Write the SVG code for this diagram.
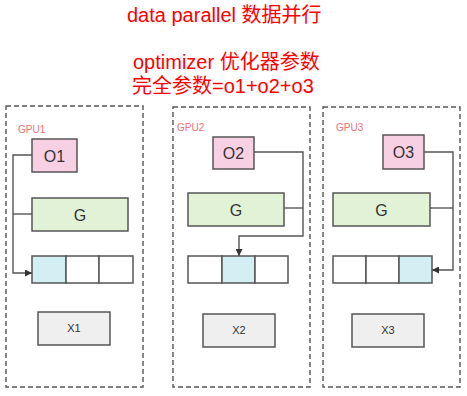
<svg xmlns="http://www.w3.org/2000/svg" width="467" height="396" viewBox="0 0 467 396">
<defs>
<style>
.title{font-family:"Liberation Sans","Noto Sans CJK SC",sans-serif;font-size:20px;fill:#ff0000}
.gpu{fill:none;stroke:#555;stroke-width:1.4;stroke-dasharray:5 3}
.gl{font-family:"Liberation Sans",sans-serif;font-size:10px;fill:#e8707a}
.o{fill:#f8d0e4;stroke:#555;stroke-width:1.5}
.g{fill:#e1f2d6;stroke:#555;stroke-width:1.5}
.c{fill:#ffffff;stroke:#555;stroke-width:1.5}
.ca{fill:#d4eff4;stroke:#555;stroke-width:1.5}
.x{fill:#efefef;stroke:#555;stroke-width:1.5}
.t{font-family:"Liberation Sans",sans-serif;font-size:16px;fill:#333;text-anchor:middle}
.tx{font-family:"Liberation Sans",sans-serif;font-size:11px;fill:#333;text-anchor:middle}
.ln{fill:none;stroke:#555;stroke-width:1.4}
</style>
<marker id="ah" viewBox="0 0 10 10" refX="10" refY="5" markerWidth="7" markerHeight="7" orient="auto" markerUnits="userSpaceOnUse">
<path d="M0,0 L10,5 L0,10 z" fill="#333"/>
</marker>
</defs>
<rect width="467" height="396" fill="#ffffff"/>
<g id="title">
<text class="title" x="127" y="22">data parallel 数据并行</text>
<text class="title" x="133" y="69">optimizer 优化器参数</text>
<text class="title" x="132" y="93">完全参数=o1+o2+o3</text>
</g>
<g id="gpu1">
<rect class="gpu" x="6" y="106" width="137" height="281"/>
<text class="gl" x="18" y="133">GPU1</text>
<g id="o1"><rect class="o" x="32" y="139" width="45" height="33"/><text class="t" x="54.5" y="161.5">O1</text></g>
<g id="g1"><rect class="g" x="32" y="198" width="96" height="33"/><text class="t" x="80" y="220.5">G</text></g>
<g id="arr1"><rect class="ca" x="32" y="256" width="34" height="27"/><rect class="c" x="66" y="256" width="33" height="27"/><rect class="c" x="99" y="256" width="34" height="27"/></g>
<g id="x1"><rect class="x" x="38" y="312" width="72" height="33"/><text class="tx" x="74" y="332">X1</text></g>
</g>
<g id="gpu2">
<rect class="gpu" x="173" y="107" width="137" height="280"/>
<text class="gl" x="177" y="131">GPU2</text>
<g id="o2"><rect class="o" x="213" y="137" width="41" height="32"/><text class="t" x="233.5" y="158.5">O2</text></g>
<g id="g2"><rect class="g" x="188" y="193" width="96" height="33"/><text class="t" x="236" y="215.5">G</text></g>
<g id="arr2"><rect class="c" x="188" y="256" width="34" height="27"/><rect class="ca" x="222" y="256" width="33" height="27"/><rect class="c" x="255" y="256" width="33" height="27"/></g>
<g id="x2"><rect class="x" x="203" y="314" width="72" height="33"/><text class="tx" x="239" y="334">X2</text></g>
</g>
<g id="gpu3">
<rect class="gpu" x="323" y="107" width="137" height="280"/>
<text class="gl" x="336" y="131">GPU3</text>
<g id="o3"><rect class="o" x="383" y="135" width="41" height="34"/><text class="t" x="403.5" y="157.5">O3</text></g>
<g id="g3"><rect class="g" x="333" y="193" width="97" height="33"/><text class="t" x="381.5" y="215.5">G</text></g>
<g id="arr3"><rect class="c" x="333" y="256" width="33" height="27"/><rect class="c" x="366" y="256" width="33" height="27"/><rect class="ca" x="399" y="256" width="33" height="27"/></g>
<g id="x3"><rect class="x" x="352" y="314" width="72" height="33"/><text class="tx" x="388" y="334">X3</text></g>
</g>
<g id="connectors">
<path class="ln" d="M32,155 H13 V273 H32" marker-end="url(#ah)"/>
<path class="ln" d="M32,214 H13"/>
<path class="ln" d="M254,152 H303 V236 H239 V256" marker-end="url(#ah)"/>
<path class="ln" d="M284,208 H303"/>
<path class="ln" d="M424,152 H453 V270 H432" marker-end="url(#ah)"/>
<path class="ln" d="M430,208 H453"/>
</g>
</svg>
